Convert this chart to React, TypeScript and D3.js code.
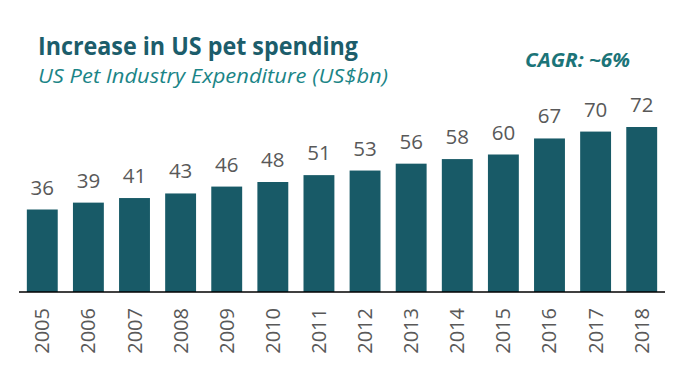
import React from "react";
import * as d3 from "d3";

const years = ["2005","2006","2007","2008","2009","2010","2011","2012","2013","2014","2015","2016","2017","2018"];
const values = [36, 39, 41, 43, 46, 48, 51, 53, 56, 58, 60, 67, 70, 72];
const title = "Increase in US pet spending";
const subtitle = "US Pet Industry Expenditure (US$bn)";
const cagr = "CAGR: ~6%";

const W = 675, H = 378;
const baseY = 292;
const FONT = "'Open Sans', sans-serif";

export default function App() {
  const x = d3.scaleBand<string>().domain(years).range([19, 665]).paddingInner(0.33).paddingOuter(0.17);
  const y = d3.scaleLinear().domain([0, 72]).range([baseY, baseY - 165]);
  return (
    <svg width={W} height={H} style={{ position: "absolute", left: 0, top: 0 }}>
      <rect width={W} height={H} fill="#fff" />
      <text x={38} y={55} fontFamily={FONT} fontWeight={700} fontSize={25} fill="#1c5d6b" textLength={320} lengthAdjust="spacingAndGlyphs">{title}</text>
      <text x={38} y={83} fontFamily={FONT} fontStyle="italic" fontSize={19.5} fill="#1b8587" textLength={350} lengthAdjust="spacingAndGlyphs">{subtitle}</text>
      <text x={525} y={67} fontFamily={FONT} fontStyle="italic" fontWeight={700} fontSize={19.5} fill="#1b7478" textLength={105} lengthAdjust="spacingAndGlyphs">{cagr}</text>
      {years.map((yr, i) => (
        <g key={yr}>
          <rect x={x(yr)} y={y(values[i])} width={x.bandwidth()} height={baseY - y(values[i])} fill="#185a67" />
          <text x={x(yr)! + x.bandwidth() / 2} y={y(values[i]) - 15} textAnchor="middle" fontFamily={FONT} fontSize={20.5} fill="#595959">{values[i]}</text>
          <text transform={`translate(${x(yr)! + x.bandwidth() / 2 + 7},${308}) rotate(-90)`} textAnchor="end" fontFamily={FONT} fontSize={20} fill="#595959">{yr}</text>
        </g>
      ))}
      <line x1={19} x2={665} y1={baseY} y2={baseY} stroke="#000" strokeWidth={1.5} />
    </svg>
  );
}
